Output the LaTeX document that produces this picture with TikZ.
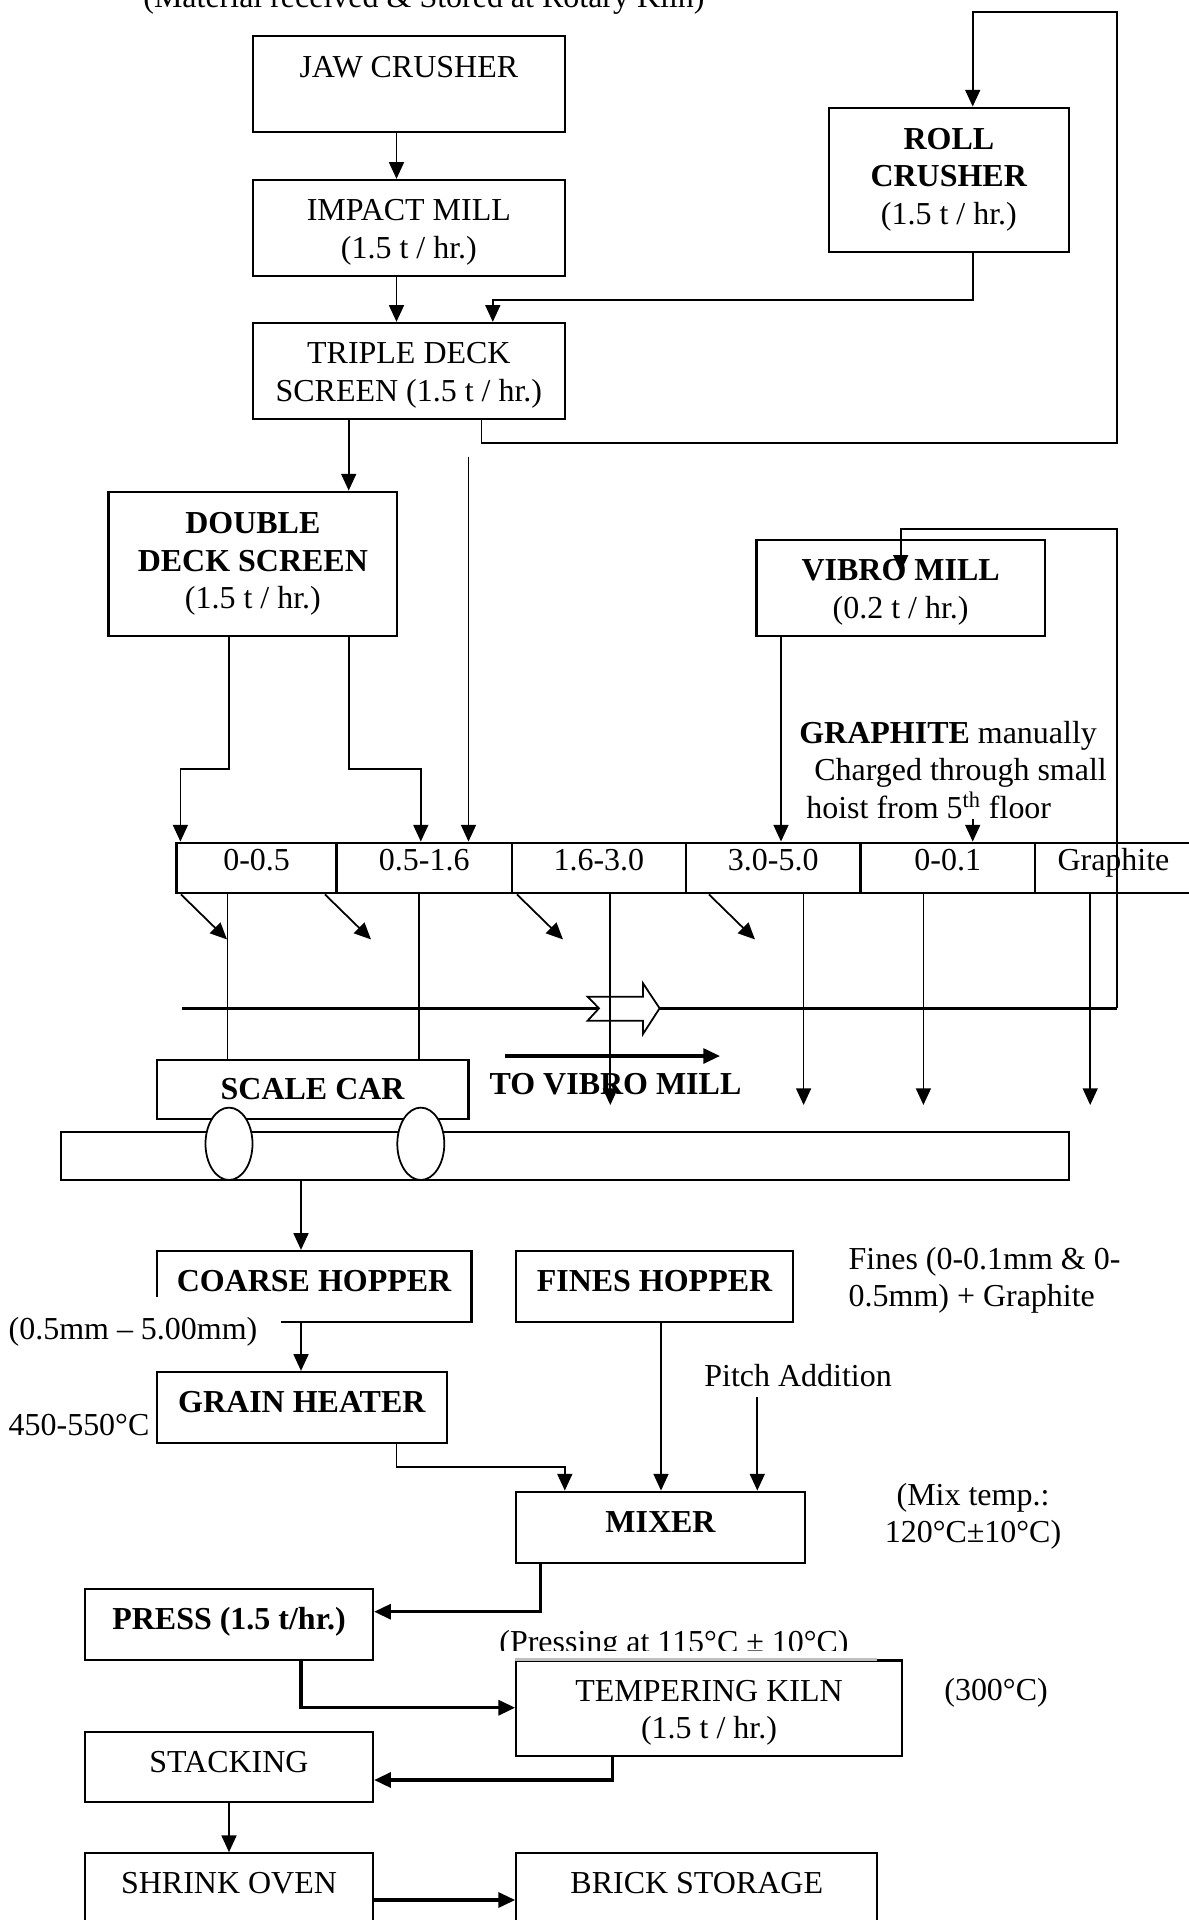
\documentclass[tikz,border=0pt]{standalone}
\usepackage{fontspec}
\setmainfont{Liberation Serif}
\usetikzlibrary{arrows.meta}
\newcommand{\lift}{\rule{0pt}{17pt}}

\tikzset{
  box/.style={draw, line width=1.3pt, inner sep=0pt, align=center},
  sz/.style 2 args={minimum width=#1*0.02cm, minimum height=#2*0.02cm},
  oneline/.style={text height=12.4pt, text depth=6.4pt},
  lbl/.style={inner sep=0pt},
  flow/.style={line width=1pt},
  heavy/.style={line width=1.8pt},
}

\begin{document}
\begin{tikzpicture}[x=0.02cm, y=-0.02cm, >={Triangle[length=9.5pt,width=8.5pt]}, font=\fontsize{18.2}{21.3}\selectfont]
\useasboundingbox (0,0) rectangle (1189,1920);
\clip (0,0) rectangle (1189,1920);

\node[lbl, anchor=base west] (title) at (143,7.3) {(Material received \& Stored at Rotary Kiln)};

\node[box, sz={312.3}{96.3}, text depth=19.5pt] (jaw) at (408.85,83.85) {JAW CRUSHER};
\node[box, sz={312.3}{96}] (imp) at (408.85,228) {\lift IMPACT MILL\\(1.5 t / hr.)};
\node[box, sz={312.3}{96}] (tds) at (408.85,371) {\lift TRIPLE DECK\\SCREEN (1.5 t / hr.)};
\node[box, sz={240.3}{144}] (roll) at (948.85,179.7) {\textbf{ROLL}\\\textbf{CRUSHER}\\(1.5 t / hr.)};
\node[box, sz={288.9}{144.3}] (dds) at (252.85,563.85) {\textbf{DOUBLE}\\\textbf{DECK SCREEN}\\(1.5 t / hr.)};
\node[box, sz={288.1}{96}] (vibro) at (900.65,588) {\lift\textbf{VIBRO MILL}\\(0.2 t / hr.)};

\foreach \cx/\w/\lbl [count=\i] in {256.6/160/0-0.5, 424.2/175.2/0.5-1.6, 598.9/174.2/1.6-3.0, 773.25/174.5/3.0-5.0, 947.7/174.4/0-0.1, 1113.45/157.1/Graphite}
  \node[box, oneline, text depth=9.2pt, sz={\w}{50.6}] (bin\i) at (\cx,868) {\lbl};

\node[lbl, anchor=north west, align=left] (graph) at (799,720.8) {\textbf{GRAPHITE} manually\\\hspace*{0.3cm}Charged through small\\\hspace*{0.14cm}hoist from 5\textsuperscript{th} floor};

\draw[flow,->] (jaw.south -| 396.5,0) -- (imp.north -| 396.5,0);
\draw[flow,->] (imp.south -| 396.5,0) -- (tds.north -| 396.5,0);
\draw[flow,->] (roll.south -| 972.7,0) |- (492.8,300) -- (tds.north -| 492.8,0);
\draw[flow,->] (tds.south -| 481.4,0) |- (1116.8,443.3) |- (972.7,11.7) -- (roll.north -| 972.7,0);
\draw[flow,->] (tds.south -| 348.7,0) -- (dds.north -| 348.7,0);
\coordinate (tdmid) at (468.5,456.7);
\draw[flow,->] (tdmid) -- (bin2.north -| tdmid);
\draw[flow,->] (dds.south -| 229,0) |- (180.4,768.7) -- (bin1.north -| 180.4,0);
\draw[flow,->] (dds.south -| 348.7,0) |- (420.8,768.7) -- (bin2.north -| 420.8,0);
\draw[flow,->] (vibro.south -| 781,0) -- (bin4.north -| 781,0);
\draw[flow,->] (graph.south -| 972.7,0) -- (bin5.north -| 972.7,0);

\foreach \xa in {181,325,517,709}
  \draw[flow,->] (bin1.south -| \xa,0) -- ++(46,45);

\coordinate (conv) at (182,1008.3);
\coordinate (vin) at (900.7,571.7);
\draw[heavy] (conv) -- (conv -| 1116.7,0);
\draw[flow,->] (conv -| 1116.7,0) |- (900.7,529) -- (vin);
\draw[flow, fill=white] (587.6,996.7) -- (643,996.7) -- (643,983.3) -- (659.6,1008.3) -- (643,1034) -- (643,1020.7) -- (587.6,1020.7) -- (599,1008.3) -- cycle;

\coordinate (feed) at (0,1105);
\foreach \i/\xx in {3/610.3,4/803.6,5/923.4,6/1090.2}
  \draw[flow,->] (bin\i.south -| \xx,0) -- (feed -| \xx,0);

\coordinate (tv) at (505,1056);
\draw[heavy,->] (tv) -- ++(215,0);
\begin{scope}
  \clip (480,1060) rectangle (760,1096);
  \node[lbl, anchor=base west] (tovm) at (489.3,1094.5) {\textbf{TO VIBRO MILL}};
\end{scope}

\node[box, sz={311.5}{59}] (scar) at (312.75,1089.5) {\textbf{SCALE CAR}};
\draw[flow] (bin1.south -| 227.4,0) -- (scar.north -| 227.4,0);
\draw[flow] (bin2.south -| 419.3,0) -- (scar.north -| 419.3,0);
\node[box, sz={1008.3}{47.7}] (rail) at (564.85,1156.15) {};
\draw[flow, fill=white] (229,1143.8) ellipse [x radius=23.5, y radius=36.2];
\draw[flow, fill=white] (420.8,1143.8) ellipse [x radius=23.5, y radius=36.2];

\node[box, oneline, sz={314.9}{71.3}] (coarse) at (314.15,1286.65) {\textbf{COARSE HOPPER}};
\node[box, oneline, sz={276.7}{71.3}] (fines) at (654.65,1286.65) {\textbf{FINES HOPPER}};
\node[lbl, anchor=north west, align=left] (fineslbl) at (848.3,1247) {Fines (0-0.1mm \& 0-\\0.5mm) + Graphite};
\node[anchor=base west, fill=white, inner xsep=0.47cm, inner ysep=0.41cm] (crs) at (-15.2,1339.3) {(0.5mm – 5.00mm)};
\draw[flow,->] (rail.south -| 301,0) -- (coarse.north -| 301,0);

\node[box, oneline, sz={290.6}{70.7}] (grain) at (302,1407.35) {\textbf{GRAIN HEATER}};
\node[lbl, anchor=base west] (heat) at (8.3,1435) {450-550°C};
\draw[flow,->] (coarse.south -| 301,0) -- (grain.north -| 301,0);

\node[box, oneline, sz={288.7}{71}] (mix) at (660.65,1527.2) {\textbf{MIXER}};
\node[anchor=base west, inner xsep=0pt, inner ysep=0.2cm] (pitch) at (704,1386.7) {Pitch Addition};
\node[lbl, anchor=north, align=center] (mixtemp) at (973,1483) {(Mix temp.:\\120°C±10°C)};
\draw[flow,->] (grain.south -| 396.5,0) |- (564.8,1466.7) -- (mix.north -| 564.8,0);
\draw[flow,->] (fines.south -| 661,0) -- (mix.north -| 661,0);
\draw[flow,->] (pitch.south -| 757.3,0) -- (mix.north -| 757.3,0);

\node[box, oneline, sz={288}{70.7}] (press) at (229,1624.65) {\textbf{PRESS (1.5 t/hr.)}};
\node[box, sz={385.4}{95.5}] (temper) at (709,1708.25) {\lift TEMPERING KILN\\(1.5 t / hr.)};
\draw[black!25, line width=1.3pt] (temper.north west) -- ++(361.7,0);
\begin{scope}
  \clip (480,1620) rectangle (870,1650.7);
  \node[lbl, anchor=base west] (presslbl) at (499,1652) {(Pressing at 115°C ± 10°C)};
\end{scope}
\node[lbl, anchor=base west] (kilntemp) at (944,1700) {(300°C)};
\node[box, oneline, sz={288}{70.6}] (stack) at (229,1767) {STACKING};
\node[box, oneline, sz={288}{69.7}] (shrink) at (229,1888.15) {SHRINK OVEN};
\node[box, oneline, sz={360.9}{70}] (brick) at (696.75,1888) {BRICK STORAGE};

\draw[heavy,->] (mix.south -| 540.6,0) |- (press.east |- 0,1611.7);
\draw[heavy,->] (press.south -| 301,0) |- (temper.west |- 0,1707.7);
\draw[heavy,->] (temper.south -| 612.6,0) |- (stack.east |- 0,1780);
\draw[flow,->] (stack.south) -- (shrink.north);
\draw[heavy,->] (shrink.east |- 0,1900) -- (brick.west |- 0,1900);
\end{tikzpicture}
\end{document}
